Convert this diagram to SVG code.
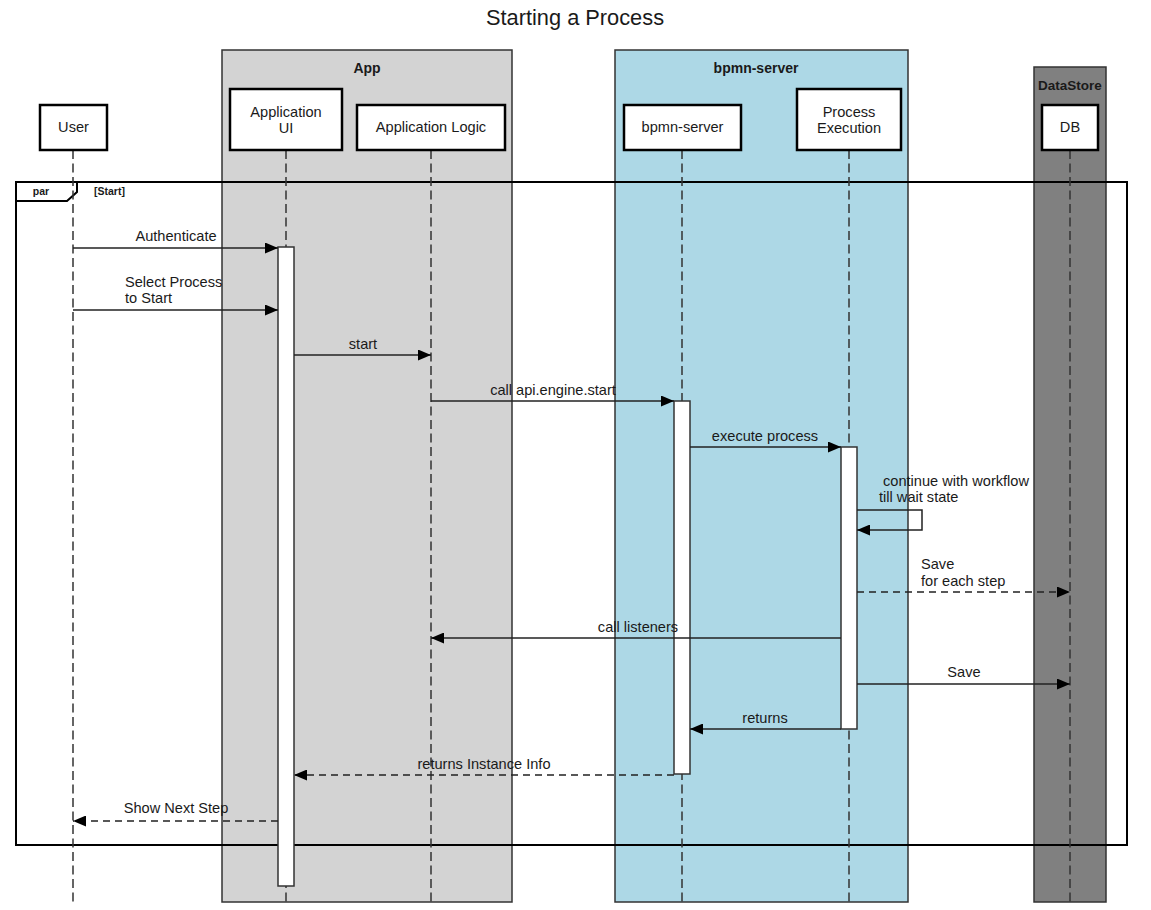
<svg xmlns="http://www.w3.org/2000/svg" width="1151" height="910" viewBox="0 0 1151 910">
<defs>
<marker id="arr" markerWidth="13" markerHeight="11" refX="13" refY="5.5" orient="auto" markerUnits="userSpaceOnUse">
<path d="M0,0 L13,5.5 L0,11 z" fill="#000"/>
</marker>
<style>
text{font-family:"Liberation Sans",Arial,sans-serif;fill:#1a1a1a;}
.t14{font-size:14.6px;}
.c{text-anchor:middle;}
.b{font-weight:bold;}
.grp{stroke:#333;stroke-width:1.5;}
.node{fill:#fff;stroke:#000;stroke-width:2.5;}
.life{stroke:#333;stroke-width:1.5;stroke-dasharray:9 4.5;fill:none;}
.act{fill:#fff;stroke:#333;stroke-width:1.5;}
.msg{stroke:#222;stroke-width:1.5;fill:none;marker-end:url(#arr);}
.dash{stroke-dasharray:7 5;}
</style>
</defs>
<rect width="1151" height="910" fill="#fff"/>
<text x="575" y="25" class="c" style="font-size:21.8px">Starting a Process</text>

<g id="group-app">
<rect class="grp" x="222" y="50" width="290" height="852" fill="#d3d3d3"/>
<text x="367" y="73" class="c b" style="font-size:14px">App</text>
</g>
<g id="group-bpmn-server">
<rect class="grp" x="615" y="50" width="293" height="852" fill="#add8e6"/>
<text x="756" y="73" class="c b" style="font-size:14px">bpmn-server</text>
</g>
<g id="group-datastore">
<rect class="grp" x="1034" y="67" width="72" height="835" fill="#808080"/>
<text x="1070" y="90" class="c b" style="font-size:13.5px">DataStore</text>
</g>

<g id="frame-par">
<rect x="16" y="182" width="1111" height="663" fill="none" stroke="#000" stroke-width="2"/>
<polygon points="16,182 77,182 77,192 67,201 16,201" fill="#fff" stroke="#000" stroke-width="2"/>
<text x="41" y="195" class="c b" style="font-size:10.5px">par</text>
<text x="94" y="195" class="b" style="font-size:10.5px">[Start]</text>
</g>

<g id="lifelines">
<line class="life" x1="73" y1="150" x2="73" y2="902"/>
<line class="life" x1="286" y1="150" x2="286" y2="902"/>
<line class="life" x1="431" y1="150" x2="431" y2="902"/>
<line class="life" x1="682" y1="150" x2="682" y2="902"/>
<line class="life" x1="849" y1="150" x2="849" y2="902"/>
<line class="life" x1="1070" y1="150" x2="1070" y2="902"/>
</g>

<g id="node-user">
<rect class="node" x="40" y="105" width="67" height="45"/>
<text x="73.5" y="132" class="t14 c">User</text>
</g>
<g id="node-app-ui">
<rect class="node" x="230" y="89" width="112" height="61"/>
<text x="286" y="117" class="t14 c">Application</text>
<text x="286" y="133" class="t14 c">UI</text>
</g>
<g id="node-app-logic">
<rect class="node" x="357" y="105" width="148" height="45"/>
<text x="431" y="132" class="t14 c">Application Logic</text>
</g>
<g id="node-bpmn-server">
<rect class="node" x="624" y="105" width="117" height="45"/>
<text x="682.5" y="132" class="t14 c">bpmn-server</text>
</g>
<g id="node-process-execution">
<rect class="node" x="797" y="89" width="104" height="61"/>
<text x="849" y="117" class="t14 c">Process</text>
<text x="849" y="133" class="t14 c">Execution</text>
</g>
<g id="node-db">
<rect class="node" x="1042" y="105" width="56" height="45"/>
<text x="1070" y="132" class="t14 c">DB</text>
</g>

<g id="activations">
<rect class="act" x="278" y="247" width="16" height="639"/>
<rect class="act" x="674" y="401" width="16" height="373"/>
<rect class="act" x="841" y="447" width="16" height="282"/>
</g>

<g id="connectors">
<line class="msg" x1="73" y1="248" x2="278" y2="248"/>
<line class="msg" x1="73" y1="310" x2="278" y2="310"/>
<line class="msg" x1="294" y1="355" x2="431" y2="355"/>
<line class="msg" x1="431" y1="401" x2="674" y2="401"/>
<line class="msg" x1="690" y1="447" x2="841" y2="447"/>
<path class="msg" d="M857,510 H922 V530 H857"/>
<line class="msg dash" x1="857" y1="592" x2="1070" y2="592"/>
<line class="msg" x1="841" y1="638" x2="431" y2="638"/>
<line class="msg" x1="857" y1="684" x2="1070" y2="684"/>
<line class="msg" x1="841" y1="729" x2="690" y2="729"/>
<line class="msg dash" x1="674" y1="775" x2="294" y2="775"/>
<line class="msg dash" x1="278" y1="821" x2="73" y2="821"/>
</g>

<g id="labels">
<text x="176" y="241" class="t14 c">Authenticate</text>
<text x="125" y="287" class="t14">Select Process</text>
<text x="125" y="303" class="t14">to Start</text>
<text x="363" y="349" class="t14 c">start</text>
<text x="553" y="395" class="t14 c">call api.engine.start</text>
<text x="765" y="441" class="t14 c">execute process</text>
<text x="883" y="486" class="t14">continue with workflow</text>
<text x="879" y="502" class="t14">till wait state</text>
<text x="921" y="569" class="t14">Save</text>
<text x="921" y="586" class="t14">for each step</text>
<text x="638" y="632" class="t14 c">call listeners</text>
<text x="964" y="677" class="t14 c">Save</text>
<text x="765" y="723" class="t14 c">returns</text>
<text x="484" y="769" class="t14 c">returns Instance Info</text>
<text x="176" y="813" class="t14 c">Show Next Step</text>
</g>
</svg>
